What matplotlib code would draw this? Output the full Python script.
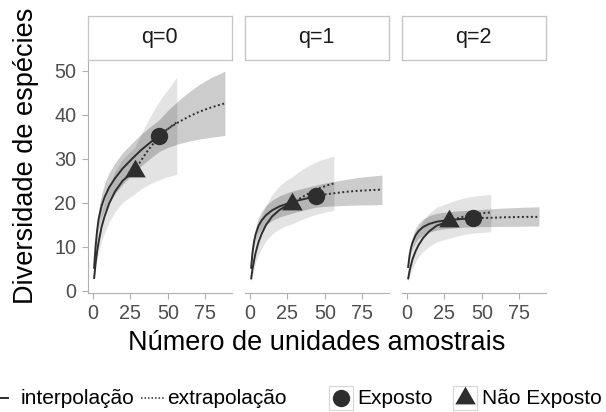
import matplotlib
matplotlib.use("Agg")
import matplotlib.pyplot as plt
from matplotlib.lines import Line2D
from matplotlib.patches import Rectangle

plt.rcParams['font.family'] = ['Liberation Sans', 'DejaVu Sans']

# sampling units (x) for each group
x_exp_int = [1, 2, 3, 4, 6, 8, 11, 15, 20, 26, 32, 38, 44]
x_exp_ext = [44, 50, 57, 64, 71, 79, 88]
x_nex_int = [1, 2, 3, 4, 6, 8, 11, 15, 20, 24, 28]
x_nex_ext = [28, 32, 37, 42, 47, 52, 56]

panel_titles = ["q=0", "q=1", "q=2"]
group_names = ["Exposto", "Não Exposto"]

# q=0
q0_exp_int = [5.0, 10.0, 13.6, 16.2, 19.3, 21.3, 23.5, 25.6, 27.8, 29.9, 31.9, 33.6, 35.2]
q0_exp_ext = [35.2, 36.8, 38.3, 39.6, 40.7, 41.7, 42.6]
q0_exp_lo = [4.2, 8.6, 11.7, 14.0, 16.6, 18.3, 20.2, 22.1, 24.2, 26.3, 28.3, 30.0, 31.6,
             32.6, 33.4, 34.0, 34.5, 34.9, 35.3]
q0_exp_hi = [5.8, 11.4, 15.5, 18.4, 22.0, 24.3, 26.8, 29.1, 31.4, 33.5, 35.5, 37.2, 38.8,
             41.0, 43.2, 45.2, 46.9, 48.5, 49.9]
q0_nex_int = [2.7, 6.2, 8.9, 11.0, 14.5, 16.9, 19.8, 22.6, 25.0, 26.2, 27.2]
q0_nex_ext = [27.2, 29.5, 32.0, 34.1, 35.9, 37.3, 38.3]
q0_nex_lo = [2.0, 4.7, 6.9, 8.5, 11.3, 13.2, 15.6, 18.0, 20.1, 21.1, 22.0,
             23.1, 24.1, 24.9, 25.6, 26.1, 26.5]
q0_nex_hi = [3.4, 7.7, 10.9, 13.5, 17.7, 20.6, 24.0, 27.2, 29.9, 31.3, 32.5,
             35.4, 38.8, 41.8, 44.4, 46.6, 48.6]

# q=1
q1_exp_int = [5.0, 8.8, 11.2, 12.8, 14.8, 16.0, 17.2, 18.3, 19.2, 19.9, 20.5, 21.0, 21.5]
q1_exp_ext = [21.5, 21.9, 22.2, 22.5, 22.7, 22.85, 23.0]
q1_exp_lo = [4.4, 7.8, 9.9, 11.3, 13.0, 14.0, 15.0, 16.0, 16.8, 17.4, 18.0, 18.5, 19.0,
             19.2, 19.3, 19.4, 19.5, 19.5, 19.6]
q1_exp_hi = [5.6, 9.8, 12.5, 14.3, 16.6, 18.0, 19.4, 20.6, 21.6, 22.4, 23.0, 23.5, 24.0,
             24.5, 24.9, 25.3, 25.7, 26.0, 26.3]
q1_nex_int = [2.6, 5.0, 6.9, 8.6, 11.1, 12.9, 15.0, 16.9, 18.4, 19.2, 19.8]
q1_nex_ext = [19.8, 20.7, 21.7, 22.6, 23.4, 24.0, 24.4]
q1_nex_lo = [1.9, 3.7, 5.1, 6.4, 8.3, 9.7, 11.4, 12.9, 14.1, 14.7, 15.2,
             15.8, 16.5, 17.1, 17.6, 18.0, 18.3]
q1_nex_hi = [3.4, 6.6, 9.1, 11.3, 14.5, 16.8, 19.5, 21.9, 23.9, 25.0, 25.8,
             26.9, 28.0, 28.9, 29.7, 30.2, 30.6]

# q=2
q2_exp_int = [5.2, 8.0, 9.8, 11.0, 12.6, 13.6, 14.5, 15.2, 15.7, 16.0, 16.2, 16.35, 16.45]
q2_exp_ext = [16.45, 16.55, 16.6, 16.7, 16.75, 16.8, 16.8]
q2_exp_lo = [4.6, 7.0, 8.6, 9.6, 11.0, 11.9, 12.7, 13.3, 13.8, 14.1, 14.3, 14.45, 14.55,
             14.6, 14.6, 14.65, 14.65, 14.7, 14.7]
q2_exp_hi = [5.8, 9.0, 11.0, 12.4, 14.2, 15.3, 16.3, 17.1, 17.6, 17.9, 18.1, 18.25, 18.35,
             18.5, 18.65, 18.8, 18.9, 19.0, 19.1]
q2_nex_int = [2.6, 4.5, 5.9, 7.2, 9.0, 10.4, 12.0, 13.5, 14.8, 15.3, 15.8]
q2_nex_ext = [15.8, 16.3, 16.8, 17.2, 17.5, 17.7, 17.8]
q2_nex_lo = [1.9, 3.3, 4.3, 5.2, 6.6, 7.7, 8.9, 10.1, 11.1, 11.5, 11.9,
             12.3, 12.7, 13.0, 13.2, 13.3, 13.4]
q2_nex_hi = [3.4, 6.0, 8.0, 9.8, 12.2, 14.0, 15.9, 17.6, 19.0, 19.5, 20.0,
             20.5, 21.0, 21.4, 21.6, 21.8, 21.9]

panels = [
    (q0_exp_int, q0_exp_ext, q0_exp_lo, q0_exp_hi, q0_nex_int, q0_nex_ext, q0_nex_lo, q0_nex_hi),
    (q1_exp_int, q1_exp_ext, q1_exp_lo, q1_exp_hi, q1_nex_int, q1_nex_ext, q1_nex_lo, q1_nex_hi),
    (q2_exp_int, q2_exp_ext, q2_exp_lo, q2_exp_hi, q2_nex_int, q2_nex_ext, q2_nex_lo, q2_nex_hi),
]

W, H = 606, 412
line_col = '#2e2e2e'
axis_col = '#b0b0b0'
tick_col = '#4d4d4d'
tri = [(0, 1), (-0.866, -0.5), (0.866, -0.5)]   # centred on centroid, like R's pch 17

fig = plt.figure(figsize=(W / 100, H / 100), dpi=100)

def fig_box(left, top, width, height):
    return [left / W, (H - top - height) / H, width / W, height / H]

lefts = [87.5, 244.5, 401.5]
pw, top, ph = 144, 60, 233

x_exp_all = x_exp_int + x_exp_ext[1:]
x_nex_all = x_nex_int + x_nex_ext[1:]

for i, (ei, ee, elo, ehi, ni, ne, nlo, nhi) in enumerate(panels):
    ax = fig.add_axes(fig_box(lefts[i], top, pw, ph))
    ax.fill_between(x_exp_all, elo, ehi, color='black', alpha=0.2, linewidth=0)
    ax.fill_between(x_nex_all, nlo, nhi, color='black', alpha=0.11, linewidth=0)
    ax.plot(x_exp_int, ei, color=line_col, lw=1.4, solid_capstyle='butt')
    ax.plot(x_nex_int, ni, color=line_col, lw=1.4, solid_capstyle='butt')
    ax.plot(x_exp_ext, ee, color=line_col, lw=1.4, linestyle=(0, (1, 1.3)))
    ax.plot(x_nex_ext, ne, color=line_col, lw=1.4, linestyle=(0, (1, 1.3)))
    ax.plot(x_exp_int[-1], ei[-1], 'o', ms=12.5, color=line_col, mew=0)
    ax.plot(x_nex_int[-1], ni[-1], marker=tri, ms=17, color=line_col, mew=0, linestyle='none')

    ax.set_xlim(1 - 4.35, 88 + 4.35)
    ax.set_ylim(-0.5, 52.45)
    ax.set_xticks([0, 25, 50, 75])
    ax.set_yticks([0, 10, 20, 30, 40, 50])
    for s in ['top', 'right']:
        ax.spines[s].set_visible(False)
    ax.spines['bottom'].set_color(axis_col)
    ax.spines['left'].set_color(axis_col)
    ax.tick_params(colors=axis_col, labelcolor=tick_col, labelsize=14.2,
                   length=4.5, width=0.8, pad=3.5)
    if i > 0:
        ax.spines['left'].set_visible(False)
        ax.tick_params(axis='y', left=False, labelleft=False)

    # facet strip
    sx = fig.add_axes(fig_box(lefts[i], 16, pw, 44))
    sx.set_xticks([])
    sx.set_yticks([])
    for s in sx.spines.values():
        s.set_color('#c4c4c4')
        s.set_linewidth(0.9)
    sx.text(0.5, 0.5, panel_titles[i], ha='center', va='center',
            fontsize=15.5, color='#1a1a1a', transform=sx.transAxes)

fig.text(26 / W, 1 - 156 / H, "Diversidade de espécies", rotation=90,
         ha='center', va='center', fontsize=19.5)
fig.text(317 / W, 1 - 343 / H, "Número de unidades amostrais",
         ha='center', va='center', fontsize=19.5)

# legend, drawn by hand along the bottom
ly = 1 - 398 / H
fig.add_artist(Line2D([-16 / W, 8 / W], [ly, ly], color=line_col, lw=1.4))
fig.text(21 / W, ly, "interpolação", ha='left', va='center', fontsize=15)
fig.add_artist(Line2D([141 / W, 164 / W], [ly, ly], color=line_col, lw=1.1,
                      linestyle=(0, (1, 1.3))))
fig.text(167 / W, ly, "extrapolação", ha='left', va='center', fontsize=15)

for bx, mk, ms, name, tx in [(328.5, 'o', 12.5, group_names[0], 357),
                            (453, tri, 17, group_names[1], 481.5)]:
    fig.add_artist(Rectangle(((bx) / W, 1 - 410 / H), 24 / W, 24 / H,
                             transform=fig.transFigure, facecolor='white',
                             edgecolor='#d6d6d6', lw=0.8))
    fig.add_artist(Line2D([(bx + 12) / W], [ly], marker=mk, ms=ms, color=line_col,
                          mew=0, linestyle='none'))
    fig.text(tx / W, ly, name, ha='left', va='center', fontsize=15)

fig.savefig("out.png", dpi=100)
